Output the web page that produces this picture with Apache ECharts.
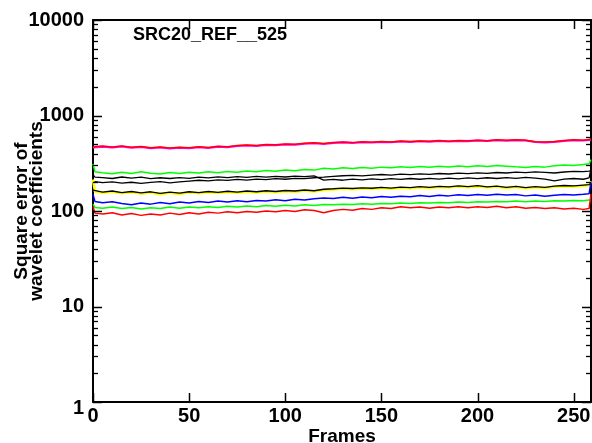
<!DOCTYPE html>
<html>
<head>
<meta charset="utf-8">
<script src="https://cdn.jsdelivr.net/npm/echarts@6/dist/echarts.min.js"></script>
<style>
html,body{margin:0;padding:0;background:#fff;}
#main{width:592px;height:443px;}
</style>
</head>
<body>
<div id="main"></div>
<script>
const TITLE = 'SRC20_REF__525';
const FRAMES = [0,1,5,10,15,20,25,30,35,40,45,50,55,60,65,70,75,80,85,90,95,100,105,110,115,120,125,130,135,140,145,150,155,160,165,170,175,180,185,190,195,200,205,210,215,220,225,230,235,240,245,250,255,258,259];
const X_TICKS = [0,50,100,150,200,250];
const Y_MAJOR = [1,10,100,1000,10000];
const Y_MINOR = [2,3,4,5,6,7,8,9,20,30,40,50,60,70,80,90,200,300,400,500,600,700,800,900,2000,3000,4000,5000,6000,7000,8000,9000];

const M1 = [462,466,472,463,474,460,468,455,462,451,
            460,454,465,457,470,465,478,484,479,491,
            488,498,494,506,511,503,516,522,515,526,
            520,529,524,534,528,536,531,540,534,542,
            537,546,540,550,543,552,546,527,522,529,
            542,550,546,554,556];
const R1 = [470,474,478,468,480,465,474,460,468,456,
            466,459,470,462,476,470,484,490,484,497,
            494,504,499,512,518,508,522,528,520,532,
            525,535,529,540,533,542,537,546,539,548,
            543,552,545,556,549,558,551,532,527,534,
            548,556,551,560,563];
const G1 = [312,258,251,246,255,247,257,249,244,253,
            247,255,250,257,252,259,255,262,257,265,
            261,268,264,272,268,280,276,283,278,286,
            281,288,283,290,285,292,287,294,289,296,
            291,298,293,300,295,290,286,292,288,298,
            303,300,307,312,345];
const BA = [240,226,224,219,227,221,226,218,223,219,
            224,220,226,222,228,224,229,225,230,226,
            231,227,232,229,233,211,214,210,216,212,
            217,213,218,214,219,215,220,216,221,217,
            222,218,223,219,224,220,225,221,216,207,
            216,219,215,222,276];
const BB = [204,200,198,202,196,200,195,199,203,197,
            202,206,210,207,212,209,214,211,216,213,
            218,215,220,218,223,226,230,234,236,233,
            238,241,238,243,240,245,242,247,244,249,
            246,251,248,253,250,255,252,257,254,250,
            256,260,258,262,264];
const YL = [214,160,155,159,153,157,152,156,150,155,
            151,156,153,157,154,158,155,159,156,160,
            157,161,159,163,160,166,168,171,169,172,
            170,174,171,175,173,177,174,178,176,180,
            177,181,176,179,174,178,173,177,174,179,
            182,180,184,186,205];
const BC = [165,162,158,162,156,160,155,159,153,158,
            154,159,156,160,157,161,158,162,159,163,
            160,164,162,166,163,169,171,174,172,175,
            173,177,174,178,176,180,177,181,179,183,
            180,184,179,182,177,181,176,180,177,182,
            185,183,187,189,195];
const BL = [150,126,122,125,120,116,121,118,123,119,
            124,121,126,123,127,124,128,125,129,127,
            131,128,133,130,134,137,135,139,136,140,
            138,142,139,143,141,145,142,146,144,148,
            145,149,146,150,147,149,144,147,143,146,
            149,147,150,152,200];
const G2 = [118,109,107,110,106,109,105,108,106,110,
            107,110,108,111,109,112,110,113,111,114,
            112,115,113,116,114,117,116,118,117,119,
            118,120,119,121,120,122,121,123,122,124,
            123,125,124,126,125,127,125,127,126,128,
            127,129,128,130,131];
const R2 = [112,95,93,96,91,94,90,93,91,95,
            92,96,93,97,95,98,96,99,97,100,
            98,101,99,103,101,96,101,104,102,106,
            104,108,106,111,108,110,107,110,108,111,
            108,111,109,112,108,111,107,109,106,108,
            105,107,104,106,150];

const SERIES = [
  {data: M1, color: '#ff00ff', width: 2},
  {data: R1, color: '#ff0000', width: 1.5},
  {data: G1, color: '#00ff00', width: 1.5},
  {data: BA, color: '#000000', width: 1.3},
  {data: BB, color: '#000000', width: 1.3},
  {data: YL, color: '#ffff00', width: 2.5},
  {data: BC, color: '#000000', width: 1.3},
  {data: BL, color: '#0000ff', width: 1.5},
  {data: G2, color: '#00ff00', width: 1.5},
  {data: R2, color: '#ff0000', width: 1.5}
];

const FONT = "'Liberation Sans', Arial, Helvetica, sans-serif";
const chart = echarts.init(document.getElementById('main'), null, {renderer: 'canvas'});

function xAx(pos, labels) {
  return {
    type: 'value', min: 0, max: 259, interval: 50, position: pos,
    axisLine: {show: true, onZero: false, lineStyle: {color: '#000', width: 2}},
    axisTick: {show: false},
    axisLabel: labels ? {show: true, customValues: X_TICKS, color: '#000', fontFamily: FONT, fontWeight: 'bold', fontSize: 20, margin: 4} : {show: false},
    splitLine: {show: false},
    name: labels ? 'Frames' : '',
    nameLocation: 'middle', nameGap: 25, nameMoveOverlap: false,
    nameTextStyle: {color: '#000', fontFamily: FONT, fontWeight: 'bold', fontSize: 19}
  };
}
function yAx(pos, labels) {
  return {
    type: 'log', logBase: 10, min: 1, max: 10000, position: pos,
    axisLine: {show: true, onZero: false, lineStyle: {color: '#000', width: 2}},
    axisTick: {show: false},
    axisLabel: labels ? {
      show: true, customValues: Y_MAJOR, color: '#000', fontFamily: FONT, fontWeight: 'bold', fontSize: 20, margin: 9,
      formatter: function (v) { return v === 1 ? '{low|1}' : String(v); },
      rich: {low: {fontFamily: FONT, fontWeight: 'bold', fontSize: 20, color: '#000', padding: [12, 0, 0, 0]}}
    } : {show: false},
    splitLine: {show: false},
    name: labels ? 'Square error of\nwavelet coefficients' : '',
    nameLocation: 'middle', nameGap: 49, nameRotate: 90, nameMoveOverlap: false,
    nameTextStyle: {color: '#000', fontFamily: FONT, fontWeight: 'bold', fontSize: 19, lineHeight: 15}
  };
}

// Tick marks drawn as custom series: positions come from the axes' scales via api.coord
const yTickData = Y_MINOR.map(function (v) { return [0, v, 5]; })
  .concat(Y_MAJOR.map(function (v) { return [0, v, 9]; }));
const xTickData = X_TICKS.map(function (v) { return [v, 100, 9]; });

function yTickRender(params, api) {
  const cs = params.coordSys;
  const p = api.coord([api.value(0), api.value(1)]);
  const y = Math.round(p[1]) + 0.5;
  const len = api.value(2);
  const w = len > 6 ? 1.5 : 1.3;
  return {
    type: 'group',
    children: [
      {type: 'line', shape: {x1: cs.x, y1: y, x2: cs.x + len, y2: y}, style: {stroke: '#000', lineWidth: w}},
      {type: 'line', shape: {x1: cs.x + cs.width - len, y1: y, x2: cs.x + cs.width, y2: y}, style: {stroke: '#000', lineWidth: w}}
    ]
  };
}
function xTickRender(params, api) {
  const cs = params.coordSys;
  const p = api.coord([api.value(0), api.value(1)]);
  const x = Math.round(p[0]) + 0.5;
  const len = api.value(2);
  return {
    type: 'group',
    children: [
      {type: 'line', shape: {x1: x, y1: cs.y + cs.height, x2: x, y2: cs.y + cs.height - len}, style: {stroke: '#000', lineWidth: 1.5}},
      {type: 'line', shape: {x1: x, y1: cs.y, x2: x, y2: cs.y + len}, style: {stroke: '#000', lineWidth: 1.5}}
    ]
  };
}

const lineSeries = SERIES.map(function (s) {
  return {
    type: 'line', xAxisIndex: 0, yAxisIndex: 0, showSymbol: false,
    lineStyle: {color: s.color, width: s.width}, itemStyle: {color: s.color},
    data: FRAMES.map(function (f, i) { return [f, s.data[i]]; })
  };
});

chart.setOption({
  animation: false,
  backgroundColor: '#fff',
  title: {
    text: TITLE, left: 133, top: 26, padding: 0,
    textStyle: {color: '#000', fontFamily: FONT, fontWeight: 'bold', fontSize: 18}
  },
  grid: {left: 93, right: 1, top: 20, bottom: 41, outerBoundsMode: 'none'},
  xAxis: [xAx('bottom', true), xAx('top', false)],
  yAxis: [yAx('left', true), yAx('right', false)],
  series: lineSeries.concat([
    {type: 'custom', xAxisIndex: 0, yAxisIndex: 0, renderItem: yTickRender, data: yTickData,
     encode: {x: 0, y: 1}, clip: false, silent: true, z: 10},
    {type: 'custom', xAxisIndex: 0, yAxisIndex: 0, renderItem: xTickRender, data: xTickData,
     encode: {x: 0, y: 1}, clip: false, silent: true, z: 10}
  ])
});
</script>
</body>
</html>
